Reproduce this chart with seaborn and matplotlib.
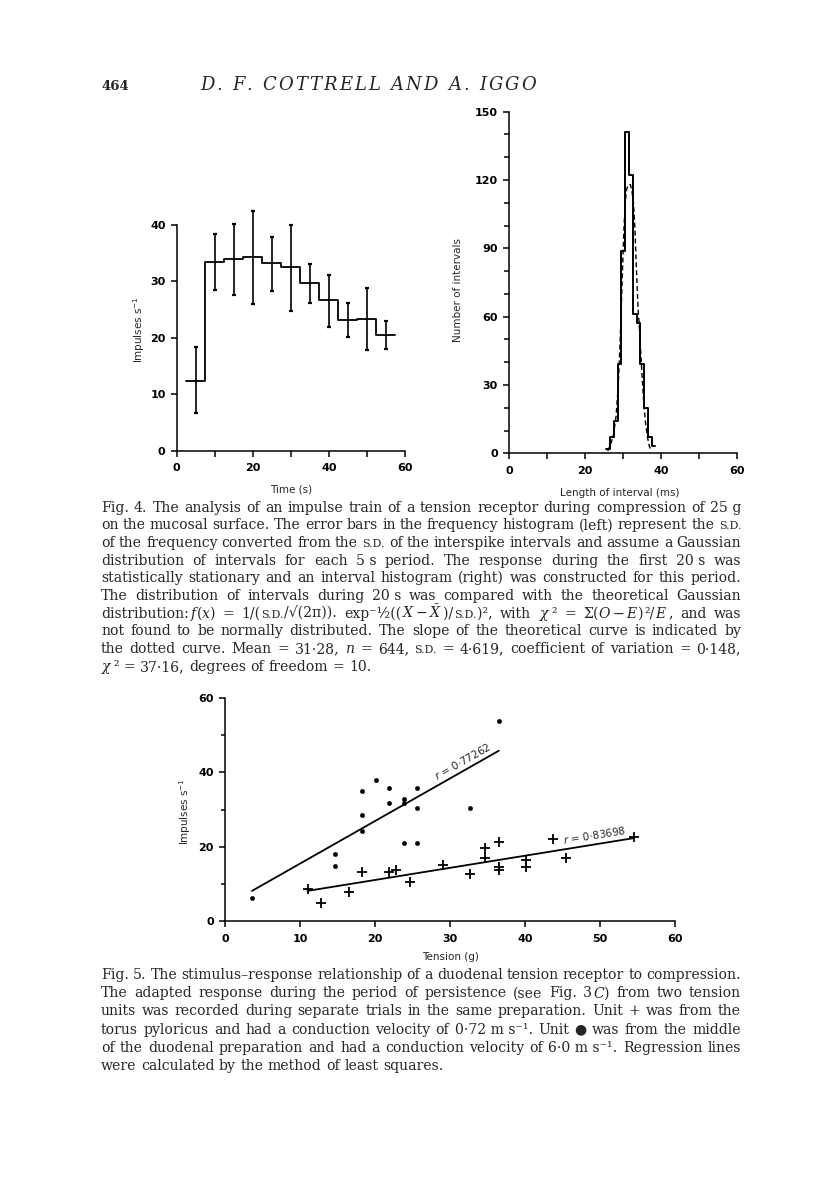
import numpy as np
import pandas as pd
import matplotlib
matplotlib.use("Agg")
import matplotlib.pyplot as plt
import seaborn as sns

# Fig. 4 (left): mean frequency for each 5 s period, with S.D. range
time_s = [5, 10, 15, 20, 25, 30, 35, 40, 45, 50, 55]
rate = [12.4, 33.5, 34.0, 34.3, 33.2, 32.5, 29.8, 26.7, 23.2, 23.4, 20.5]
rate_lo = [6.6, 28.4, 27.6, 26.0, 28.3, 24.8, 26.2, 21.9, 20.2, 17.9, 18.0]
rate_hi = [18.3, 38.4, 40.2, 42.4, 37.9, 40.0, 33.1, 31.2, 26.1, 28.9, 23.0]
period_s = 5

# Fig. 4 (right): interval histogram, 1 ms bins
interval_ms = [26.1, 27.1, 28.1, 29.1, 30.1, 31.1, 32.1, 33.1, 34.1, 35.1, 36.1, 37.1, 38.1]
counts = [2, 7, 14, 39, 89, 141, 122, 61, 57, 39, 20, 7, 3]
# theoretical curve (dashed)
gauss_x = [26.0, 26.8, 27.5, 28.2, 28.8, 29.3, 29.8, 30.2, 30.6, 31.0, 31.5, 32.0,
           32.4, 32.8, 33.2, 33.6, 34.0, 34.4, 34.8, 35.2, 35.6, 36.0, 36.5, 37.0, 37.5]
gauss_y = [1, 4, 8, 16, 30, 50, 75, 95, 110, 116, 118, 118,
           115, 110, 98, 80, 64, 54, 42, 30, 20, 13, 7, 3, 1]

# Fig. 5: stimulus-response, two units
dot_tension = [3.6, 14.7, 14.7, 18.3, 18.3, 18.3, 20.1, 21.9, 21.9, 23.8, 23.8, 23.8,
               25.6, 25.6, 25.6, 32.7, 36.5]
dot_rate = [6.1, 18.0, 14.8, 34.9, 28.6, 24.3, 38.0, 35.9, 31.7, 32.8, 31.8, 21.1,
            35.9, 30.5, 21.1, 30.5, 53.9]
plus_tension = [11.0, 12.8, 16.5, 18.3, 21.8, 22.8, 24.6, 29.1, 32.7, 34.6, 34.6, 36.5,
                36.5, 36.5, 40.1, 40.1, 43.7, 45.5, 54.5]
plus_rate = [8.7, 4.9, 7.9, 13.1, 13.1, 13.7, 10.6, 15.1, 12.6, 19.6, 16.9, 21.2,
             14.4, 13.7, 16.3, 14.4, 22.0, 16.9, 22.6]
dot_fit_x = [3.6, 36.5]
dot_fit_y = [8.1, 45.8]
plus_fit_x = [11.0, 54.5]
plus_fit_y = [8.1, 22.3]

W, H = 816, 1181
sns.set_theme(style="ticks", rc={
    "axes.linewidth": 1.1, "axes.edgecolor": "black",
    "xtick.color": "black", "ytick.color": "black",
    "xtick.major.width": 1.1, "ytick.major.width": 1.1,
    "xtick.minor.width": 1.1, "ytick.minor.width": 1.1,
    "xtick.major.size": 4.5, "ytick.major.size": 4.5,
    "xtick.major.pad": 4.5, "ytick.major.pad": 3.5,
    "mathtext.fontset": "dejavusans",
})
plt.rcParams["font.family"] = ["DejaVu Sans"]

fig = plt.figure(figsize=(W / 100, H / 100), dpi=100)
fig.patch.set_facecolor("white")


def px_axes(x0, x1, ytop, ybot):
    return fig.add_axes([x0 / W, 1 - ybot / H, (x1 - x0) / W, (ybot - ytop) / H])


def fx(x):
    return x / W


def fy(y):
    return 1 - y / H


def style_ticks(ax, xt, xlab, yt, ylab):
    ax.set_xticks(xt)
    ax.set_xticklabels(xlab, fontsize=8, fontweight="bold")
    ax.set_yticks(yt)
    ax.set_yticklabels(ylab, fontsize=8, fontweight="bold")
    ax.set_facecolor("white")
    sns.despine(ax=ax)


# ---------- Fig. 4 left ----------
ax1 = px_axes(176.7, 405, 225, 450.7)
edges = [t - period_s / 2 for t in time_s] + [time_s[-1] + period_s / 2]
sns.lineplot(x=edges, y=rate + [rate[-1]], drawstyle="steps-post", color="black",
             lw=1.3, ax=ax1, estimator=None, sort=False)
yerr = [np.array(rate) - np.array(rate_lo), np.array(rate_hi) - np.array(rate)]
ax1.errorbar(time_s, rate, yerr=yerr, fmt="none", ecolor="black", elinewidth=1.2,
             capsize=1.3, capthick=1.6, clip_on=False)
ax1.set_xlim(0, 60)
ax1.set_ylim(0, 40)
style_ticks(ax1, range(0, 61, 10), ["0", "", "20", "", "40", "", "60"],
            range(0, 41, 10), ["0", "10", "20", "30", "40"])
ax1.set_xlabel("")
ax1.set_ylabel("")
fig.text(fx(291), fy(490), "Time (s)", ha="center", va="center", fontsize=7.5)
fig.text(fx(139), fy(330), "Impulses s$^{-1}$", ha="center", va="center",
         rotation=90, fontsize=7.5)

# ---------- Fig. 4 right ----------
ax2 = px_axes(509, 736.7, 111.7, 453.3)
bin_edges = [c - 0.5 for c in interval_ms] + [interval_ms[-1] + 0.5]
sns.histplot(x=interval_ms, weights=counts, bins=bin_edges, element="step",
             fill=False, color="black", lw=1.4, ax=ax2)
sns.lineplot(x=gauss_x, y=gauss_y, color="black", lw=1.0, ax=ax2,
             estimator=None, sort=False)
ax2.lines[-1].set_dashes([3.5, 2.2])
ax2.set_xlim(0, 60)
ax2.set_ylim(0, 150)
style_ticks(ax2, range(0, 61, 10), ["0", "", "20", "", "40", "", "60"],
            range(0, 151, 30), ["0", "30", "60", "90", "120", "150"])
ax2.set_yticks([v for v in range(0, 151, 10) if v % 30], minor=True)
ax2.tick_params(axis="y", which="minor", length=3.5, width=1.1, color="black")
ax2.set_xlabel("")
ax2.set_ylabel("")
fig.text(fx(620), fy(493), "Length of interval (ms)", ha="center", va="center",
         fontsize=7.5)
fig.text(fx(458), fy(290), "Number of intervals", ha="center", va="center",
         rotation=90, fontsize=7.5)

# ---------- Fig. 5 ----------
ax3 = px_axes(225, 675, 698, 921)
sns.scatterplot(x=dot_tension, y=dot_rate, marker="o", s=10, color="black",
                edgecolor="black", linewidth=0.3, ax=ax3, clip_on=False)
sns.scatterplot(x=plus_tension, y=plus_rate, marker="+", s=45, color="black",
                linewidth=1.3, ax=ax3)
sns.lineplot(x=dot_fit_x, y=dot_fit_y, color="black", lw=1.3, ax=ax3)
sns.lineplot(x=plus_fit_x, y=plus_fit_y, color="black", lw=1.3, ax=ax3)
ax3.set_xlim(0, 60)
ax3.set_ylim(0, 60)
style_ticks(ax3, range(0, 61, 10), [str(v) for v in range(0, 61, 10)],
            range(0, 61, 20), ["0", "20", "40", "60"])
ax3.set_yticks([10, 30, 50], minor=True)
ax3.tick_params(axis="y", which="minor", length=3, width=1.1, color="black")
ax3.set_xlabel("")
ax3.set_ylabel("")
fig.text(fx(450), fy(957), "Tension (g)", ha="center", va="center", fontsize=7.5)
fig.text(fx(185), fy(812), "Impulses s$^{-1}$", ha="center", va="center",
         rotation=90, fontsize=7.5)


def line_angle(ax, xs, ys):
    p = ax.transData.transform(np.column_stack([xs, ys]))
    return np.degrees(np.arctan2(p[1, 1] - p[0, 1], p[1, 0] - p[0, 0]))


ax3.text(28.3, 37.9, "$r$ = 0·77262", rotation=line_angle(ax3, dot_fit_x, dot_fit_y),
         rotation_mode="anchor", ha="left", va="baseline", fontsize=7.5)
ax3.text(45.2, 20.6, "$r$ = 0·83698", rotation=line_angle(ax3, plus_fit_x, plus_fit_y),
         rotation_mode="anchor", ha="left", va="baseline", fontsize=7.5)

# ---------- page text ----------
serif = ["DejaVu Serif", "DejaVu Sans"]
renderer = fig.canvas.get_renderer()


def text_width(t):
    return t.get_window_extent(renderer).width


def space_width(**kw):
    a = fig.text(0, 0, "a a", family=serif, **kw)
    b = fig.text(0, 0, "aa", family=serif, **kw)
    sp = text_width(a) - text_width(b)
    a.remove()
    b.remove()
    return sp


def spread(s, left, right, base, **kw):
    # letter-spaced running head
    chars = [fig.text(0, fy(base), c, va="baseline", family=serif, **kw) for c in s]
    sp = space_width(**kw)
    widths = [text_width(c) if c.get_text() != " " else sp for c in chars]
    extra = (right - left - sum(widths)) / (len(chars) - 1)
    x = left
    for c, w in zip(chars, widths):
        c.set_x(fx(x))
        x += w + extra


fig.text(fx(101), fy(90), "464", family=serif, fontweight="bold", fontsize=9.5,
         va="baseline")
spread("D. F. COTTRELL AND A. IGGO", 200, 536, 90, style="italic", fontsize=13)

# '|' splits a word into pieces, '^' marks small capitals, '_' is a fixed space
cap4 = [
    "Fig. 4. The analysis of an impulse train of a tension receptor during compression of 25_g",
    "on the mucosal surface. The error bars in the frequency histogram (left) represent the ^S.D.",
    "of the frequency converted from the ^S.D. of the interspike intervals and assume a Gaussian",
    "distribution of intervals for each 5_s period. The response during the first 20_s was",
    "statistically stationary and an interval histogram (right) was constructed for this period.",
    "The distribution of intervals during 20_s was compared with the theoretical Gaussian",
    r"distribution:|$f(x)$ = 1/(|^S.D.|/√(2π)). exp⁻½((|$X-\bar{X}$|)/|^S.D.|)², with $\chi$|² = $\Sigma(O-E)$|²/|$E$|, and was",
    "not found to be normally distributed. The slope of the theoretical curve is indicated by",
    "the dotted curve. Mean = 31·28, $n$ = 644, ^S.D. = 4·619, coefficient of variation = 0·148,",
    r"$\chi$|² = 37·16, degrees of freedom = 10.",
]
cap5 = [
    "Fig. 5. The stimulus–response relationship of a duodenal tension receptor to compression.",
    "The adapted response during the period of persistence (see Fig. 3|$C$) from two tension",
    "units was recorded during separate trials in the same preparation. Unit + was from the",
    "torus pyloricus and had a conduction velocity of 0·72_m_s⁻¹. Unit ● was from the middle",
    "of the duodenal preparation and had a conduction velocity of 6·0_m_s⁻¹. Regression lines",
    "were calculated by the method of least squares.",
]


def caption(lines, base0, step, size=10.1, left=101, right=741, kern=0.6):
    space = space_width(fontsize=size)
    for i, line in enumerate(lines):
        y = fy(base0 + i * step)
        words = []
        for w in line.split(" "):
            parts = []
            for p in w.split("|"):
                if not p:
                    continue
                small = p.startswith("^")
                s = p[1:] if small else p
                t = fig.text(0, y, s.replace("_", " "), fontsize=size * (0.78 if small else 1),
                             family=serif, va="baseline", math_fontfamily="dejavuserif")
                parts.append(t)
            words.append(parts)
        widths = [sum(text_width(t) + kern for t in parts) - kern for parts in words]
        last = i == len(lines) - 1
        gap = space if last or len(words) < 2 else (right - left - sum(widths)) / (len(words) - 1)
        x = left
        for parts in words:
            for t in parts:
                t.set_x(fx(x))
                x += text_width(t) + kern
            x += gap - kern


caption(cap4, 511.5, 17.7)
caption(cap5, 979, 18.2)

fig.savefig("out.png", dpi=100, facecolor="white")
